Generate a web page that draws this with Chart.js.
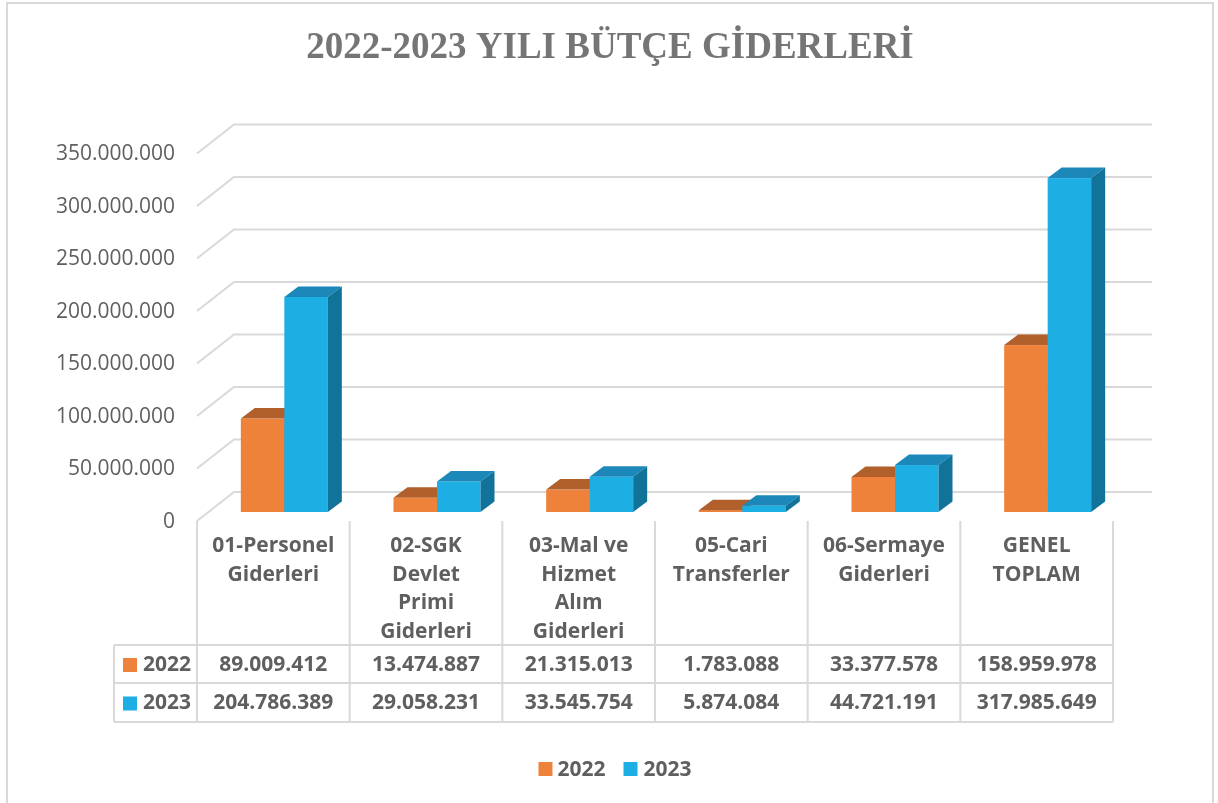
<!DOCTYPE html>
<html><head><meta charset="utf-8">
<script src="https://cdn.jsdelivr.net/npm/chart.js@4.4.1/dist/chart.umd.min.js"></script>
<style>html,body{margin:0;padding:0;background:#fff;overflow:hidden}#wrap{position:relative;width:1218px;height:803px}</style>
</head><body><div id="wrap"><canvas id="c" width="1218" height="803"></canvas></div>
<script>
const chartTitle = '2022-2023 YILI BÜTÇE GİDERLERİ';
const categories = [
  ['01-Personel', 'Giderleri'],
  ['02-SGK', 'Devlet', 'Primi', 'Giderleri'],
  ['03-Mal ve', 'Hizmet', 'Alım', 'Giderleri'],
  ['05-Cari', 'Transferler'],
  ['06-Sermaye', 'Giderleri'],
  ['GENEL', 'TOPLAM']
];
const seriesNames = ['2022', '2023'];
const values2022 = [89009412, 13474887, 21315013, 1783088, 33377578, 158959978];
const values2023 = [204786389, 29058231, 33545754, 5874084, 44721191, 317985649];
const yMin = 0, yMax = 350000000, yStep = 50000000;

const FRONT = ['#EF823B', '#1DAEE3'];
const TOP = ['#B1602C', '#1C88BA'];
const SIDE = ['#A8592A', '#12739A'];
const GRID = '#D9D9D9';
const TXT = '#5F5F5F';
const FONT = '"Open Sans", "Liberation Sans", sans-serif';
const D = {fx: -11, fy: 9, bx: 26, by: -20, bxr: 28, dx: 14, dy: -10.5};

const fmt = v => String(Math.round(v)).replace(/\B(?=(\d{3})+(?!\d))/g, '.');

const plugin3d = {
  id: 'threeD',
  beforeDraw(chart) {
    const ctx = chart.ctx;
    ctx.save();
    ctx.fillStyle = '#fff';
    ctx.fillRect(0, 0, chart.width, chart.height);
    ctx.strokeStyle = GRID; ctx.lineWidth = 2;
    ctx.strokeRect(7, 3, 1206, 900);
    ctx.font = 'bold 37px "Liberation Serif", serif';
    ctx.fillStyle = '#757575';
    ctx.textAlign = 'center'; ctx.textBaseline = 'alphabetic';
    ctx.fillText(chartTitle, 610, 58);
    ctx.restore();
  },
  beforeDatasetsDraw(chart) {
    const {ctx, chartArea: a, scales: {y}} = chart;
    ctx.save();
    ctx.strokeStyle = GRID; ctx.lineWidth = 2;
    y.ticks.forEach(t => {
      const py = y.getPixelForValue(t.value);
      ctx.beginPath();
      ctx.moveTo(a.left + D.fx, py + D.fy);
      ctx.lineTo(a.left + D.bx, py + D.by);
      ctx.lineTo(a.right + D.bxr, py + D.by);
      ctx.stroke();
    });
    ctx.restore();
  },
  afterDatasetsDraw(chart) {
    const ctx = chart.ctx;
    ctx.save();
    chart.data.datasets.forEach((ds, i) => {
      chart.getDatasetMeta(i).data.forEach(bar => {
        const {x, y, base, width} = bar.getProps(['x', 'y', 'base', 'width'], true);
        const l = x - width / 2, r = x + width / 2;
        ctx.fillStyle = FRONT[i];
        ctx.fillRect(l, y, width, base - y);
        ctx.fillStyle = TOP[i];
        ctx.beginPath();
        ctx.moveTo(l, y); ctx.lineTo(l + D.dx, y + D.dy); ctx.lineTo(r + D.dx, y + D.dy); ctx.lineTo(r, y);
        ctx.closePath(); ctx.fill();
        ctx.fillStyle = SIDE[i];
        ctx.beginPath();
        ctx.moveTo(r, y); ctx.lineTo(r + D.dx, y + D.dy); ctx.lineTo(r + D.dx, base + D.dy); ctx.lineTo(r, base);
        ctx.closePath(); ctx.fill();
      });
    });
    ctx.restore();
  },
  afterDraw(chart) {
    const {ctx, scales: {x, y}} = chart;
    const n = chart.data.labels.length;
    const colW = x.width / n;
    const x0 = x.left + D.fx;
    const topY = y.getPixelForValue(0) + D.fy;
    const r1 = 645, r2 = 683, r3 = 722, keyL = 114;
    ctx.save();
    ctx.strokeStyle = GRID; ctx.lineWidth = 2;
    ctx.beginPath();
    for (let k = 0; k <= n; k++) {
      const xx = x0 + k * colW;
      ctx.moveTo(xx, topY); ctx.lineTo(xx, r3);
    }
    ctx.moveTo(keyL, r1); ctx.lineTo(keyL, r3);
    [r1, r2, r3].forEach(yy => { ctx.moveTo(keyL, yy); ctx.lineTo(x0 + n * colW, yy); });
    ctx.stroke();

    ctx.fillStyle = TXT;
    ctx.font = 'bold 21px ' + FONT;
    ctx.textAlign = 'center'; ctx.textBaseline = 'alphabetic';
    chart.data.labels.forEach((lines, k) => {
      const cx = x0 + (k + 0.5) * colW;
      lines.forEach((ln, j) => ctx.fillText(ln, cx, 552 + j * 28.7));
    });
    ctx.textBaseline = 'middle';
    chart.data.datasets.forEach((ds, di) => {
      const cy = di === 0 ? (r1 + r2) / 2 + 1 : (r2 + r3) / 2 + 1;
      ds.data.forEach((v, k) => {
        ctx.fillStyle = TXT;
        ctx.fillText(fmt(v), x0 + (k + 0.5) * colW, cy);
      });
      ctx.fillStyle = FRONT[di];
      ctx.fillRect(123, cy - 7, 14, 14);
      ctx.fillStyle = TXT; ctx.textAlign = 'left';
      ctx.fillText(ds.label, 143, cy);
      ctx.textAlign = 'center';
    });

    ctx.textAlign = 'left';
    const ly = 769;
    const w0 = ctx.measureText(seriesNames[0]).width;
    const w1 = ctx.measureText(seriesNames[1]).width;
    const total = 14 + 5 + w0 + 18 + 14 + 6 + w1;
    let lx = 615 - total / 2;
    chart.data.datasets.forEach((ds, di) => {
      ctx.fillStyle = FRONT[di];
      ctx.fillRect(lx, ly - 7, 14, 14);
      lx += 14 + (di === 0 ? 5 : 6);
      ctx.fillStyle = TXT;
      ctx.fillText(ds.label, lx, ly + 1);
      lx += (di === 0 ? w0 : w1) + 18;
    });
    ctx.restore();
  }
};

new Chart(document.getElementById('c'), {
  type: 'bar',
  data: {
    labels: categories,
    datasets: [
      {label: seriesNames[0], data: values2022, backgroundColor: 'rgba(0,0,0,0)',
       categoryPercentage: 0.57, barPercentage: 1, borderWidth: 0},
      {label: seriesNames[1], data: values2023, backgroundColor: 'rgba(0,0,0,0)',
       categoryPercentage: 0.57, barPercentage: 1, borderWidth: 0}
    ]
  },
  options: {
    responsive: false,
    devicePixelRatio: 1,
    animation: false,
    layout: {padding: {left: 0, right: 94, top: 144.5, bottom: 291}},
    plugins: {legend: {display: false}, title: {display: false}, tooltip: {enabled: false}},
    scales: {
      x: {display: false},
      y: {
        min: yMin, max: yMax,
        grid: {display: false, drawTicks: false},
        border: {display: false},
        afterFit: s => { s.width = 208; },
        ticks: {
          stepSize: yStep,
          padding: 33,
          labelOffset: 10,
          color: TXT,
          font: {family: FONT, size: 21},
          callback: v => fmt(v)
        }
      }
    }
  },
  plugins: [plugin3d]
});
</script>
</body></html>
